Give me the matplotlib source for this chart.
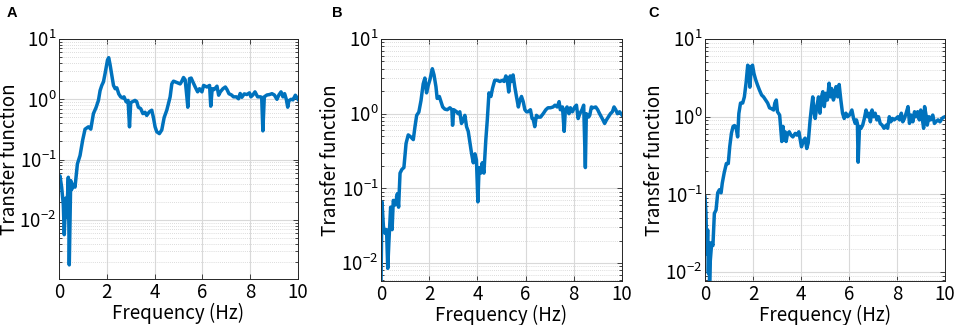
import numpy as np
import matplotlib
matplotlib.use("Agg")
import matplotlib.pyplot as plt
from matplotlib.ticker import LogLocator, NullFormatter

plt.rcParams['font.family'] = ['Noto Sans CJK JP', 'DejaVu Sans']
plt.rcParams['mathtext.fontset'] = 'custom'
plt.rcParams['mathtext.rm'] = 'Noto Sans CJK JP'
plt.rcParams['mathtext.it'] = 'Noto Sans CJK JP'
plt.rcParams['mathtext.bf'] = 'Noto Sans CJK JP'

# ---------------- data ----------------
freq_a = [0.00, 0.04, 0.11, 0.18, 0.22, 0.28, 0.32, 0.39, 0.43, 0.49, 0.53, 0.60, 0.67, 0.77, 0.88,
          0.99, 1.09, 1.23, 1.33, 1.44, 1.55, 1.65, 1.72, 1.79, 1.86, 1.93, 2.03, 2.08, 2.14, 2.21,
          2.28, 2.35, 2.42, 2.50, 2.58, 2.67, 2.72, 2.81, 2.89, 2.95, 3.00, 3.09, 3.18, 3.25, 3.32,
          3.42, 3.51, 3.60, 3.67, 3.78, 3.88, 3.95, 4.02, 4.09, 4.20, 4.30, 4.40, 4.51, 4.58, 4.65,
          4.72, 4.79, 4.93, 5.07, 5.14, 5.21, 5.28, 5.35, 5.39, 5.46, 5.53, 5.60, 5.70, 5.80, 5.88,
          5.98, 6.05, 6.19, 6.30, 6.35, 6.41, 6.49, 6.61, 6.68, 6.75, 6.86, 6.96, 7.03, 7.11, 7.22,
          7.30, 7.42, 7.51, 7.58, 7.65, 7.75, 7.86, 7.97, 8.03, 8.11, 8.20, 8.31, 8.42, 8.48, 8.53,
          8.59, 8.70, 8.81, 8.91, 9.01, 9.12, 9.20, 9.29, 9.37, 9.44, 9.51, 9.57, 9.62, 9.71, 9.79,
          9.89, 10.0]
tf_a = [0.042, 0.054, 0.035, 0.018, 0.0057, 0.023, 0.011, 0.051, 0.0018, 0.045, 0.032, 0.039, 0.035, 0.085, 0.117,
        0.21, 0.32, 0.35, 0.32, 0.58, 0.73, 0.96, 1.4, 1.7, 1.95, 2.7, 4.5, 4.9, 3.7, 2.5,
        1.7, 1.5, 1.55, 1.23, 1.1, 1.05, 1.1, 0.91, 0.96, 0.35, 0.88, 0.92, 0.96, 0.92, 0.74,
        0.70, 0.58, 0.61, 0.54, 0.62, 0.66, 0.5, 0.35, 0.29, 0.27, 0.31, 0.5, 0.66, 0.85, 1.1,
        1.8, 2.0, 1.9, 1.8, 2.0, 2.3, 2.1, 1.1, 0.74, 2.2, 2.25, 1.95, 1.6, 1.33, 1.5,
        1.33, 1.7, 1.6, 1.7, 0.77, 1.5, 1.45, 1.65, 1.17, 1.33, 1.5, 1.6, 1.45, 1.24, 1.18,
        1.1, 1.1, 1.02, 1.25, 1.08, 1.23, 1.2, 1.28, 1.1, 1.18, 1.33, 1.1, 1.1, 1.08, 0.30,
        1.1, 1.18, 1.2, 1.24, 1.18, 1.0, 1.18, 1.33, 1.1, 1.24, 1.0, 0.74, 0.95, 1.0, 0.98,
        1.17, 1.0]

freq_b = [0.00, 0.04, 0.10, 0.17, 0.23, 0.28, 0.33, 0.40, 0.46, 0.51, 0.59, 0.68, 0.73, 0.79, 0.87,
          0.95, 1.04, 1.13, 1.23, 1.34, 1.41, 1.48, 1.57, 1.66, 1.75, 1.82, 1.89, 1.96, 2.03, 2.13,
          2.20, 2.28, 2.33, 2.42, 2.49, 2.56, 2.65, 2.75, 2.86, 2.94, 2.97, 3.02, 3.14, 3.20, 3.27,
          3.34, 3.41, 3.48, 3.55, 3.62, 3.76, 3.83, 3.90, 3.96, 4.02, 4.07, 4.14, 4.20, 4.27, 4.35,
          4.41, 4.48, 4.56, 4.63, 4.72, 4.82, 4.93, 5.04, 5.11, 5.18, 5.23, 5.30, 5.36, 5.41, 5.48,
          5.55, 5.62, 5.70, 5.76, 5.83, 5.90, 5.97, 6.04, 6.10, 6.20, 6.27, 6.31, 6.38, 6.45, 6.52,
          6.62, 6.73, 6.84, 6.93, 7.03, 7.14, 7.22, 7.31, 7.39, 7.44, 7.53, 7.60, 7.65, 7.72, 7.80,
          7.86, 7.94, 8.04, 8.11, 8.18, 8.25, 8.34, 8.41, 8.48, 8.52, 8.61, 8.66, 8.73, 8.80, 8.91,
          8.99, 9.07, 9.18, 9.28, 9.35, 9.43, 9.52, 9.60, 9.67, 9.74, 9.81, 9.90, 10.0]
tf_b = [0.005, 0.066, 0.031, 0.025, 0.028, 0.0085, 0.020, 0.056, 0.028, 0.069, 0.060, 0.085, 0.056, 0.16, 0.18,
        0.19, 0.40, 0.52, 0.49, 0.45, 0.67, 0.95, 1.05, 1.5, 2.5, 3.0, 1.9, 2.4, 2.85, 4.0,
        3.3, 2.3, 1.6, 1.7, 1.45, 1.23, 1.15, 1.13, 1.2, 1.13, 0.70, 1.13, 1.06, 1.0, 1.06,
        0.74, 0.82, 0.95, 0.67, 0.58, 0.29, 0.22, 0.29, 0.24, 0.066, 0.19, 0.16, 0.22, 0.16, 0.45,
        0.82, 1.9, 1.7, 2.2, 2.8, 2.8, 2.7, 2.8, 2.7, 3.2, 3.0, 1.95, 3.2, 2.7, 3.3,
        2.3, 1.7, 1.23, 1.5, 1.7, 1.45, 1.13, 1.06, 1.06, 1.13, 0.86, 0.86, 0.67, 0.95, 0.90,
        0.90, 1.0, 1.13, 1.2, 1.2, 1.23, 1.3, 1.23, 1.45, 1.13, 1.23, 0.58, 1.13, 1.23, 1.0,
        1.2, 1.06, 1.23, 1.3, 0.86, 1.0, 1.13, 1.3, 0.19, 1.0, 0.9, 0.95, 1.23, 1.2, 1.23,
        1.13, 1.0, 0.86, 0.74, 0.82, 0.90, 1.0, 1.06, 1.23, 1.13, 1.0, 1.06, 0.96]

freq_c = [0.00, 0.04, 0.08, 0.11, 0.14, 0.17, 0.19, 0.22, 0.28, 0.33, 0.39, 0.46, 0.53, 0.60, 0.67,
          0.72, 0.80, 0.89, 0.97, 1.03, 1.10, 1.17, 1.23, 1.30, 1.36, 1.41, 1.48, 1.57, 1.64, 1.71,
          1.78, 1.83, 1.87, 1.93, 1.98, 2.04, 2.11, 2.19, 2.27, 2.36, 2.44, 2.52, 2.61, 2.69, 2.77,
          2.86, 2.91, 2.97, 3.02, 3.11, 3.16, 3.20, 3.25, 3.29, 3.34, 3.38, 3.44, 3.51, 3.58, 3.66,
          3.76, 3.83, 3.91, 3.97, 4.02, 4.11, 4.17, 4.24, 4.30, 4.38, 4.44, 4.49, 4.55, 4.59, 4.66,
          4.73, 4.79, 4.84, 4.91, 4.97, 5.03, 5.10, 5.17, 5.23, 5.28, 5.35, 5.41, 5.46, 5.53, 5.59,
          5.66, 5.73, 5.80, 5.87, 5.94, 6.02, 6.12, 6.19, 6.26, 6.31, 6.35, 6.38, 6.44, 6.50, 6.57,
          6.64, 6.71, 6.77, 6.84, 6.89, 6.96, 7.02, 7.09, 7.16, 7.23, 7.30, 7.38, 7.46, 7.55, 7.61,
          7.68, 7.74, 7.81, 7.88, 7.96, 8.04, 8.11, 8.18, 8.24, 8.31, 8.38, 8.46, 8.52, 8.59, 8.66,
          8.73, 8.79, 8.86, 8.93, 8.99, 9.06, 9.11, 9.15, 9.21, 9.26, 9.33, 9.40, 9.49, 9.56, 9.62,
          9.71, 9.79, 9.88, 9.93, 10.0]
tf_c = [0.093, 0.057, 0.017, 0.035, 0.0097, 0.024, 0.0072, 0.014, 0.024, 0.022, 0.057, 0.063, 0.105, 0.115, 0.105,
        0.14, 0.19, 0.25, 0.25, 0.41, 0.61, 0.75, 0.77, 0.71, 0.55, 1.1, 1.5, 1.5, 1.8, 2.7,
        4.6, 4.4, 2.4, 4.4, 4.6, 3.6, 3.0, 2.55, 2.2, 1.9, 1.8, 1.65, 1.5, 1.3, 1.27,
        1.22, 1.5, 1.64, 1.16, 1.05, 0.68, 0.48, 0.75, 0.50, 0.64, 0.48, 0.61, 0.64, 0.58, 0.55,
        0.61, 0.58, 0.64, 0.50, 0.41, 0.50, 0.53, 0.39, 0.46, 0.91, 1.35, 1.8, 1.11, 0.95, 1.35,
        1.8, 1.11, 1.73, 2.1, 1.35, 2.0, 1.64, 2.7, 1.8, 2.3, 1.64, 1.9, 2.44, 1.8, 2.6,
        1.64, 1.11, 0.95, 1.11, 1.0, 1.05, 1.22, 0.95, 0.82, 0.91, 0.82, 0.26, 0.75, 0.71, 0.78,
        0.95, 1.22, 1.0, 1.11, 0.86, 1.22, 1.0, 1.11, 0.91, 1.0, 0.82, 0.78, 0.71, 0.78, 0.71,
        1.0, 0.86, 0.95, 0.91, 0.95, 1.0, 0.91, 1.11, 0.86, 0.95, 1.11, 1.35, 0.82, 1.05, 0.86,
        1.16, 1.0, 1.16, 0.91, 1.22, 0.91, 0.71, 1.35, 1.05, 0.78, 1.0, 0.91, 1.05, 0.82, 0.86,
        0.91, 0.86, 0.95, 0.98, 1.0]

panel_labels = ['A', 'B', 'C']
ylims = [(1.05e-3, 10), (5.75e-3, 10), (7.7e-3, 10)]
xticks = [0, 2, 4, 6, 8, 10]

# ---------------- figure ----------------
fig = plt.figure(figsize=(9.57, 3.25), dpi=100)
positions = [
    [59/957, 1-279/325, 239/957, 240/325],
    [381/957, 1-281/325, 241/957, 242/325],
    [705/957, 1-281/325, 240/957, 242/325],
]
letter_x = [12/957, 337/957, 654/957]

line_color = '#0072BD'
spine_color = '#262626'
fs = 13.5

datasets = [(freq_a, tf_a), (freq_b, tf_b), (freq_c, tf_c)]
for i, (f, v) in enumerate(datasets):
    ax = fig.add_axes(positions[i])
    ax.plot(f, v, color=line_color, lw=2.5, solid_joinstyle='round', clip_on=True)
    ax.set_yscale('log')
    ax.set_xlim(0, 10)
    ax.set_ylim(*ylims[i])
    ax.set_xticks(xticks)
    ax.set_xticklabels([str(t) for t in xticks])
    ax.yaxis.set_major_locator(LogLocator(base=10, numticks=10))
    ax.yaxis.set_minor_locator(LogLocator(base=10, subs=np.arange(2, 10), numticks=10))
    ax.yaxis.set_minor_formatter(NullFormatter())
    ax.grid(True, which='major', axis='both', color='#d9d9d9', lw=0.8, ls='-')
    ax.grid(True, which='minor', axis='y', color='#d0d0d0', lw=0.6, ls=(0, (1, 1.5)))
    ax.set_axisbelow(True)
    ax.tick_params(which='both', direction='in', top=True, right=True,
                   colors=spine_color, labelcolor='black', labelsize=fs, width=0.6)
    ax.tick_params(which='major', length=3.5, pad=2)
    ax.tick_params(which='minor', length=2)
    for s in ax.spines.values():
        s.set_color(spine_color)
        s.set_linewidth(0.7)
    ax.set_xlabel('Frequency (Hz)', fontsize=fs)
    ax.set_ylabel('Transfer function', fontsize=fs)
    ax.xaxis.set_label_coords(0.5, -0.098)
    ax.yaxis.set_label_coords(-0.165, 0.5)
    fig.text(letter_x[i], 1-13/325, panel_labels[i], fontsize=10.5, fontweight='bold',
             family='Liberation Sans', ha='center', va='center')

fig.savefig('out.png', dpi=100)
